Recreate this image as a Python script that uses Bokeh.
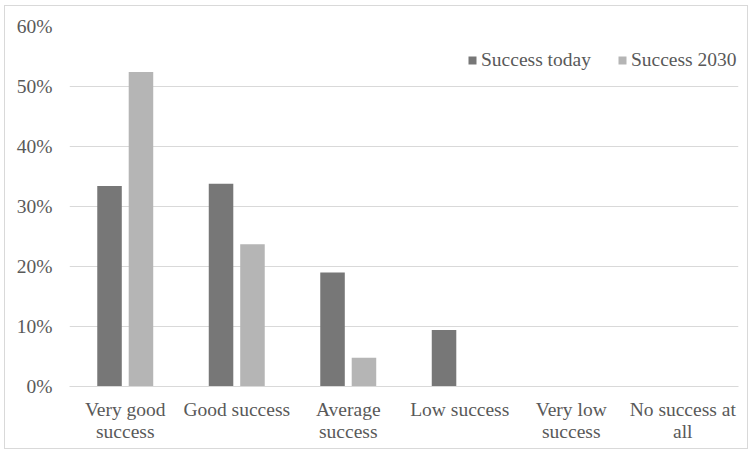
from bokeh.plotting import figure
from bokeh.models import (ColumnDataSource, FactorRange, NumeralTickFormatter, Legend,
                          LegendItem, CategoricalAxis, CustomJSTickFormatter)
from bokeh.transform import dodge
from bokeh.embed import file_html
from bokeh.resources import INLINE

# Survey answers: how successful is the approach today and in 2030
categories = ["Very good success", "Good success", "Average success",
              "Low success", "Very low success", "No success at all"]
label_line1 = ["Very good", "Good success", "Average", "Low success", "Very low", "No success at"]
label_line2 = ["success", "", "success", "", "success", "all"]
success_today = [0.334, 0.338, 0.190, 0.094, 0.0, 0.0]
success_2030 = [0.524, 0.237, 0.048, 0.0, 0.0, 0.0]
y_ticks = [0.0, 0.1, 0.2, 0.3, 0.4, 0.5, 0.6]

FONT = "Liberation Serif"
FONT_SIZE = "19.5px"
TEXT_COLOR = "#595959"
GRID_COLOR = "#d9d9d9"

source = ColumnDataSource(dict(cat=categories, today=success_today, y2030=success_2030))


def line_formatter(lines):
    # show one line of the wrapped category name for each factor
    return CustomJSTickFormatter(args=dict(cats=categories, lines=lines),
                                 code="return lines[cats.indexOf(tick)];")


p = figure(
    x_range=FactorRange(*categories, range_padding=0.0),
    y_range=(0, 0.6),
    width=744, height=444,
    output_backend="svg", toolbar_location=None,
    min_border_left=64, min_border_right=11,
    min_border_top=20, min_border_bottom=64,
    background_fill_color="white", border_fill_color="white",
)
p.margin = (5, 0, 0, 4)
p.styles = {"border": "1px solid #d9d9d9"}
p.outline_line_color = None

bw = 0.22
r1 = p.vbar(x=dodge("cat", -0.141, range=p.x_range), top="today", width=bw,
            source=source, fill_color="#777777", line_color=None)
r2 = p.vbar(x=dodge("cat", 0.141, range=p.x_range), top="y2030", width=bw,
            source=source, fill_color="#b5b5b5", line_color=None)

# y axis
p.yaxis.ticker = y_ticks
p.yaxis.formatter = NumeralTickFormatter(format="0%")
p.yaxis.axis_line_color = None
p.yaxis.major_tick_line_color = None
p.yaxis.minor_tick_line_color = None
p.yaxis.major_label_text_font = FONT
p.yaxis.major_label_text_font_size = FONT_SIZE
p.yaxis.major_label_text_color = TEXT_COLOR
p.yaxis.major_label_standoff = 11

# x axis: first line of each category name
p.xaxis.axis_line_color = GRID_COLOR
p.xaxis.axis_line_width = 1
p.xaxis.major_tick_line_color = None
p.xaxis.minor_tick_line_color = None
p.xaxis.formatter = line_formatter(label_line1)
p.xaxis.major_label_text_font = FONT
p.xaxis.major_label_text_font_size = FONT_SIZE
p.xaxis.major_label_text_color = TEXT_COLOR
p.xaxis.major_label_standoff = 6

# second line of the wrapped category names
x2 = CategoricalAxis(
    axis_line_color=None, major_tick_line_color=None, minor_tick_line_color=None,
    formatter=line_formatter(label_line2),
    major_label_text_font=FONT, major_label_text_font_size=FONT_SIZE,
    major_label_text_color=TEXT_COLOR, major_label_standoff=-8,
)
p.add_layout(x2, "below")

p.xgrid.grid_line_color = None
p.ygrid.grid_line_color = GRID_COLOR
p.ygrid.grid_line_width = 1

legend = Legend(
    items=[LegendItem(label="Success today", renderers=[r1]),
           LegendItem(label="Success 2030", renderers=[r2])],
    orientation="horizontal", location=(398, 315),
    label_text_font=FONT, label_text_font_size=FONT_SIZE, label_text_color=TEXT_COLOR,
    glyph_width=10, glyph_height=10, label_standoff=4, spacing=26, label_height=20,
    padding=0, margin=0, border_line_color=None, background_fill_alpha=0,
)
p.add_layout(legend, "center")

open("out.html", "w").write(file_html(p, INLINE))
